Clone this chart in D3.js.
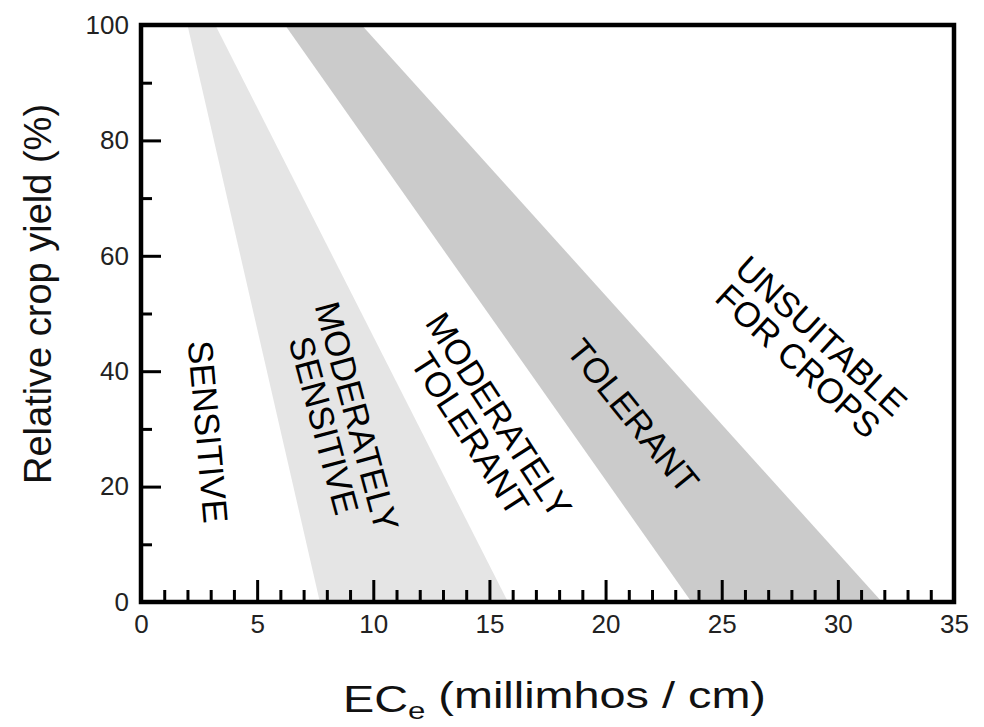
<!DOCTYPE html>
<html>
<head>
<meta charset="utf-8">
<script src="https://cdn.jsdelivr.net/npm/d3@7"></script>
<style>
  body { margin: 0; background: #fff; }
  text { font-family: "Liberation Sans", Arial, Helvetica, sans-serif; }
</style>
</head>
<body>
<div id="chart"></div>
<script>
// tolerance classes: boundary lines given as EC at 100% yield and at 0% yield
var lightBand = [[2.0, 7.7], [3.2, 15.8]];
var darkBand = [[6.2, 23.7], [9.5, 31.9]];
var yields = [100, 0];

var xMajor = [0, 5, 10, 15, 20, 25, 30, 35];
var xMinor = d3.range(1, 35).filter(function(d) { return d % 5 != 0; });
var yMajor = [0, 20, 40, 60, 80, 100];
var yMinor = [10, 30, 50, 70, 90];

// class labels: name lines, EC / yield position of centre, rotation angle
var zoneLabels = [
  {lines: ["SENSITIVE"], x: 2.9, y: 29.5, angle: 85},
  {lines: ["MODERATELY", "SENSITIVE"], x: 8.6, y: 31.4, angle: 75},
  {lines: ["MODERATELY", "TOLERANT"], x: 14.8, y: 30.8, angle: 57},
  {lines: ["TOLERANT"], x: 21.2, y: 32.3, angle: 51},
  {lines: ["UNSUITABLE", "FOR CROPS"], x: 28.8, y: 44.0, angle: 42.5}
];

var margin = {top: 25, right: 30, bottom: 125, left: 141},
    width = 984 - margin.left - margin.right,
    height = 727 - margin.top - margin.bottom;

var svg = d3.select("#chart")
    .append("svg")
    .attr("width", 984)
    .attr("height", 727);

var g = svg.append("g")
    .attr("transform", "translate(" + margin.left + "," + margin.top + ")");

var x = d3.scaleLinear().domain([0, 35]).range([0, width]);
var y = d3.scaleLinear().domain([0, 100]).range([height, 0]);

// draw a band between two boundary lines
function bandPath(band) {
  var pts = [];
  yields.forEach(function(v, i) { pts.push([x(band[0][i]), y(v)]); });
  yields.slice().reverse().forEach(function(v, i) { pts.push([x(band[1][1 - i]), y(v)]); });
  return d3.line()(pts) + "Z";
}

g.append("path")
  .attr("d", bandPath(lightBand))
  .attr("fill", "#e5e5e5");

g.append("path")
  .attr("d", bandPath(darkBand))
  .attr("fill", "#cbcbcb");

// minor ticks
g.append("g")
  .attr("class", "axis")
  .attr("transform", "translate(0," + height + ")")
  .call(d3.axisBottom(x).tickValues(xMinor).tickSize(-12).tickFormat(""));

g.append("g")
  .attr("class", "axis")
  .call(d3.axisLeft(y).tickValues(yMinor).tickSize(-11).tickFormat(""));

// major ticks with labels
g.append("g")
  .attr("class", "axis")
  .attr("transform", "translate(0," + height + ")")
  .call(d3.axisBottom(x).tickValues(xMajor).tickSize(-22).tickPadding(13));

g.append("g")
  .attr("class", "axis")
  .call(d3.axisLeft(y).tickValues(yMajor).tickSize(-20).tickPadding(12));

g.selectAll(".axis .domain").remove();
g.selectAll(".axis line")
  .attr("stroke", "#000")
  .attr("stroke-width", 3);
g.selectAll(".axis text")
  .attr("fill", "#222")
  .style("font-size", "26px");
g.selectAll(".axis .tick")
  .filter(function(d) { return d == 0 || d == 35 || d == 100; })
  .select("line").remove();

// frame
g.append("rect")
  .attr("width", width)
  .attr("height", height)
  .attr("fill", "none")
  .attr("stroke", "#000")
  .attr("stroke-width", 4.5);

// zone labels
zoneLabels.forEach(function(d) {
  var n = d.lines.length;
  var t = g.append("text")
    .attr("transform", "translate(" + x(d.x) + "," + y(d.y) + ") rotate(" + d.angle + ")")
    .attr("text-anchor", "middle")
    .style("font-size", "35px")
    .attr("fill", "#000");
  d.lines.forEach(function(line, i) {
    t.append("tspan")
      .attr("x", 0)
      .attr("y", ((i - (n - 1) / 2) * 0.98 + 0.36) + "em")
      .text(line);
  });
});

// axis titles
svg.append("text")
  .attr("transform", "translate(51," + 294 + ") rotate(-90)")
  .attr("text-anchor", "middle")
  .style("font-size", "38px")
  .attr("fill", "#111")
  .text("Relative crop yield (%)");

var xt = svg.append("text")
  .attr("transform", "translate(343,712) scale(1.3,1)")
  .style("font-size", "36px")
  .attr("fill", "#111");
xt.append("tspan").text("EC");
xt.append("tspan").attr("dy", "0.3em").style("font-size", "24px").text("e");
xt.append("tspan").attr("dy", "-0.3em").text(" (millimhos / cm)");
</script>
</body>
</html>
